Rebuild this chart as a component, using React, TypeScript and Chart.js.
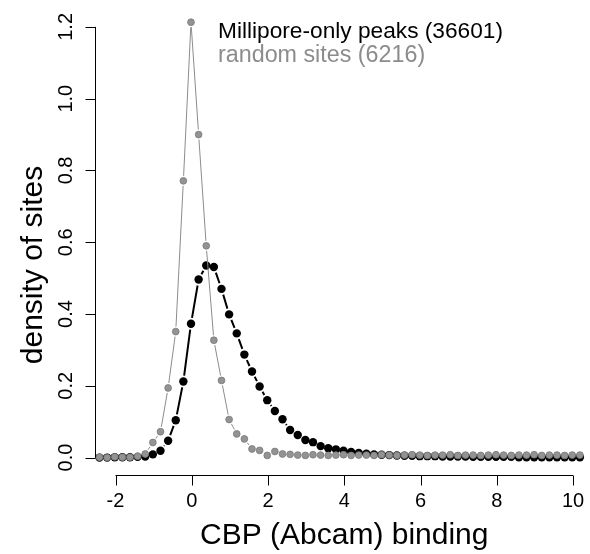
import React, { useEffect, useRef } from "react";
import { Chart, registerables } from "chart.js";

Chart.register(...registerables);

const FONT = '"Liberation Sans", Arial, Helvetica, sans-serif';

// x positions of the density estimates (CBP binding)
const xValues = [
  -2.42, -2.22, -2.02, -1.82, -1.62, -1.42, -1.22, -1.02, -0.82, -0.62,
  -0.42, -0.22, -0.02, 0.18, 0.38, 0.58, 0.78, 0.98, 1.18, 1.38,
  1.58, 1.78, 1.98, 2.18, 2.38, 2.58, 2.78, 2.98, 3.18, 3.38,
  3.58, 3.78, 3.98, 4.18, 4.38, 4.58, 4.78, 4.98, 5.18, 5.38,
  5.58, 5.78, 5.98, 6.18, 6.38, 6.58, 6.78, 6.98, 7.18, 7.38,
  7.58, 7.78, 7.98, 8.18, 8.38, 8.58, 8.78, 8.98, 9.18, 9.38,
  9.58, 9.78, 9.98, 10.18,
];

const milliporeValues = [
  0.0, 0.0, 0.001, 0.001, 0.001, 0.002, 0.003, 0.009, 0.019, 0.047,
  0.104, 0.212, 0.373, 0.496, 0.535, 0.531, 0.47, 0.399, 0.346, 0.287,
  0.24, 0.198, 0.16, 0.13, 0.107, 0.077, 0.063, 0.049, 0.043, 0.032,
  0.026, 0.023, 0.019, 0.016, 0.013, 0.011, 0.009, 0.008, 0.007, 0.006,
  0.005, 0.005, 0.004, 0.004, 0.004, 0.003, 0.003, 0.003, 0.003, 0.002,
  0.002, 0.002, 0.002, 0.002, 0.002, 0.001, 0.001, 0.001, 0.001, 0.001,
  0.001, 0.001, 0.001, 0.001,
];

const randomValues = [
  0.001, 0.0, 0.002, 0.001, 0.001, 0.004, 0.01, 0.042, 0.072, 0.194,
  0.351, 0.771, 1.213, 0.9, 0.59, 0.327, 0.215, 0.106, 0.066, 0.052,
  0.024, 0.02, 0.006, 0.017, 0.01, 0.009, 0.007, 0.006, 0.008, 0.007,
  0.006, 0.007, 0.008, 0.006, 0.007, 0.007, 0.006, 0.008, 0.007, 0.006,
  0.007, 0.008, 0.007, 0.006, 0.007, 0.007, 0.008, 0.006, 0.007, 0.007,
  0.006, 0.007, 0.008, 0.007, 0.006, 0.007, 0.007, 0.008, 0.006, 0.007,
  0.007, 0.006, 0.007, 0.007,
];

const seriesLabels = ["Millipore-only peaks (36601)", "random sites (6216)"];
const xTicks = [-2, 0, 2, 4, 6, 8, 10];
const xTickLabels = ["-2", "0", "2", "4", "6", "8", "10"];
const yTicks = [0, 0.2, 0.4, 0.6, 0.8, 1.0, 1.2];
const yTickLabels = ["0.0", "0.2", "0.4", "0.6", "0.8", "1.0", "1.2"];
const xTitle = "CBP (Abcam) binding";
const yTitle = "density of sites";

const GRAY = "#8c8c8c";

// R type="b": line segments between points, with a gap around each point
const gappedLinePlugin = {
  id: "gappedLine",
  beforeDatasetDraw(chart: any, args: any) {
    const ds = chart.data.datasets[args.index];
    const pts = args.meta.data;
    const gap = ds.segGap ?? 5;
    const { ctx, chartArea } = chart;
    ctx.save();
    ctx.beginPath();
    ctx.rect(chartArea.left, chartArea.top, chartArea.right - chartArea.left, chartArea.bottom - chartArea.top);
    ctx.clip();
    ctx.strokeStyle = ds.segColor;
    ctx.lineWidth = ds.segWidth;
    ctx.beginPath();
    for (let i = 0; i < pts.length - 1; i++) {
      const a = pts[i];
      const b = pts[i + 1];
      const dx = b.x - a.x;
      const dy = b.y - a.y;
      const len = Math.hypot(dx, dy);
      if (len <= 2 * gap) continue;
      const ux = dx / len;
      const uy = dy / len;
      ctx.moveTo(a.x + ux * gap, a.y + uy * gap);
      ctx.lineTo(b.x - ux * gap, b.y - uy * gap);
    }
    ctx.stroke();
    ctx.restore();
  },
};

const rAxesPlugin = {
  id: "rAxes",
  afterDraw(chart: any) {
    const { ctx, chartArea } = chart;
    const xs = chart.scales.x;
    const ys = chart.scales.y;
    ctx.save();
    ctx.strokeStyle = "#000";
    ctx.fillStyle = "#000";
    ctx.lineWidth = 1;

    // x axis (R style: spans first to last tick)
    const yAx = Math.round(chartArea.bottom) + 0.5;
    ctx.beginPath();
    ctx.moveTo(xs.getPixelForValue(xTicks[0]), yAx);
    ctx.lineTo(xs.getPixelForValue(xTicks[xTicks.length - 1]), yAx);
    xTicks.forEach((t) => {
      const px = Math.round(xs.getPixelForValue(t)) + 0.5;
      ctx.moveTo(px, yAx);
      ctx.lineTo(px, yAx + 10);
    });
    ctx.stroke();
    ctx.font = `20px ${FONT}`;
    ctx.textAlign = "center";
    ctx.textBaseline = "alphabetic";
    xTicks.forEach((t, i) => {
      ctx.fillText(xTickLabels[i], xs.getPixelForValue(t), yAx + 31.5);
    });

    // y axis
    const xAx = Math.round(chartArea.left) + 0.5;
    ctx.beginPath();
    ctx.moveTo(xAx, ys.getPixelForValue(yTicks[0]));
    ctx.lineTo(xAx, ys.getPixelForValue(yTicks[yTicks.length - 1]));
    yTicks.forEach((t) => {
      const py = Math.round(ys.getPixelForValue(t)) + 0.5;
      ctx.moveTo(xAx, py);
      ctx.lineTo(xAx - 10, py);
    });
    ctx.stroke();
    yTicks.forEach((t, i) => {
      ctx.save();
      ctx.translate(xAx - 24, ys.getPixelForValue(t));
      ctx.rotate(-Math.PI / 2);
      ctx.fillText(yTickLabels[i], 0, 0);
      ctx.restore();
    });

    // axis titles
    ctx.font = `30px ${FONT}`;
    ctx.fillText(xTitle, xs.getPixelForValue(4), 544);
    ctx.save();
    ctx.translate(42, 265);
    ctx.rotate(-Math.PI / 2);
    ctx.fillText(yTitle, 0, 0);
    ctx.restore();

    // legend text
    ctx.textAlign = "left";
    ctx.font = `22.7px ${FONT}`;
    ctx.fillStyle = "#000";
    ctx.fillText(seriesLabels[0], 218, 38);
    ctx.font = `23.3px ${FONT}`;
    ctx.fillStyle = GRAY;
    ctx.fillText(seriesLabels[1], 218, 62);
    ctx.restore();
  },
};

export default function App() {
  const ref = useRef<HTMLCanvasElement | null>(null);
  useEffect(() => {
    if (!ref.current) return;
    const chart = new Chart(ref.current, {
      type: "line",
      data: {
        datasets: [
          {
            label: seriesLabels[1],
            data: xValues.map((x, i) => ({ x, y: randomValues[i] })),
            showLine: false,
            segColor: GRAY,
            segWidth: 1,
            segGap: 5,
            borderColor: GRAY,
            pointRadius: 3.4,
            pointBackgroundColor: "#939393",
            pointBorderColor: "#7a7a7a",
            pointBorderWidth: 0.8,
            order: 0,
          } as any,
          {
            label: seriesLabels[0],
            data: xValues.map((x, i) => ({ x, y: milliporeValues[i] })),
            showLine: false,
            segColor: "#000",
            segWidth: 2,
            segGap: 6,
            borderColor: "#000",
            pointRadius: 4.2,
            pointBackgroundColor: "#000",
            pointBorderColor: "#000",
            pointBorderWidth: 0,
            order: 1,
          } as any,
        ],
      },
      options: {
        animation: false,
        responsive: false,
        devicePixelRatio: 1,
        layout: { padding: { left: 95, right: 0, top: 2, bottom: 79 } },
        plugins: { legend: { display: false }, tooltip: { enabled: false } },
        scales: {
          x: { type: "linear", min: -2.538, max: 10.32, display: false },
          y: { type: "linear", min: -0.0485, max: 1.2615, display: false },
        },
      },
      plugins: [gappedLinePlugin, rAxesPlugin],
    });
    return () => chart.destroy();
  }, []);
  return (
    <div style={{ position: "fixed", left: 0, top: 0, width: 590, height: 554, background: "#fff" }}>
      <canvas ref={ref} width={590} height={554} style={{ display: "block", width: 590, height: 554 }} />
    </div>
  );
}
